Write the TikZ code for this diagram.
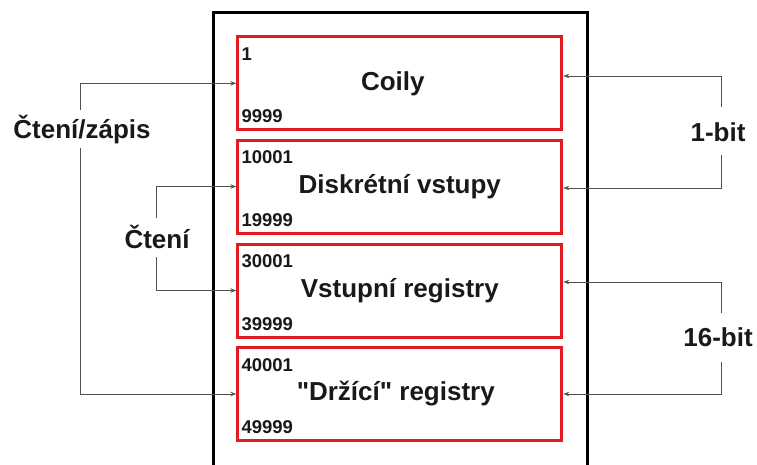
\documentclass[tikz,border=0pt]{standalone}
\usepackage{fontspec}
\setmainfont{Liberation Sans}[Ligatures=TeXOff]
\usetikzlibrary{arrows.meta}
\definecolor{regred}{RGB}{225,28,32}
\definecolor{conngray}{RGB}{80,80,80}
\tikzset{
  regbox/.style={draw=regred, line width=3pt, minimum width=324pt, minimum height=93pt, inner sep=0pt},
  title/.style={font=\bfseries\fontsize{26}{29}\selectfont, text=black!90, inner sep=0pt},
  addr/.style={font=\bfseries\fontsize{18.5}{21}\selectfont, text=black!90, inner sep=0pt},
  side/.style={font=\bfseries\fontsize{26}{29}\selectfont, text=black!90, inner sep=0pt},
  conn/.style={draw=conngray, line width=1pt},
  connarrow/.style={conn, -{Stealth[length=6pt,width=4.5pt]}},
}
\begin{document}
\begin{tikzpicture}[x=1pt,y=-1pt]
\useasboundingbox (0,0) rectangle (757,464);
\clip (0,0) rectangle (757,464);
% outer frame
\draw[line width=3pt, black] (213,480) -- (213,12) -- (587,12) -- (587,480);
% register boxes
\node[regbox] (b1) at (399.8,83.3) {};
\node[regbox] (b2) at (399.8,186.5) {};
\node[regbox] (b3) at (399.8,290.5) {};
\node[regbox] (b4) at (399.8,394) {};
% titles
\node[title] (t1) at ([xshift=-7pt]b1.center) {Coily};
\node[title] (t2) at (b2.center) {Diskrétní vstupy};
\node[title] (t3) at (b3.center) {Vstupní registry};
\node[title] (t4) at ([xshift=-4pt]b4.center) {"Držící" registry};
% addresses
\node[addr, anchor=north west] (a1s) at ([xshift=5pt,yshift=-12pt]b1.north west) {1};
\node[addr, anchor=south west] (a1e) at ([xshift=5pt,yshift=8pt]b1.south west) {9999};
\node[addr, anchor=north west] (a2s) at ([xshift=5pt,yshift=-12pt]b2.north west) {10001};
\node[addr, anchor=south west] (a2e) at ([xshift=5pt,yshift=8pt]b2.south west) {19999};
\node[addr, anchor=north west] (a3s) at ([xshift=5pt,yshift=-12pt]b3.north west) {30001};
\node[addr, anchor=south west] (a3e) at ([xshift=5pt,yshift=8pt]b3.south west) {39999};
\node[addr, anchor=north west] (a4s) at ([xshift=5pt,yshift=-12pt]b4.north west) {40001};
\node[addr, anchor=south west] (a4e) at ([xshift=5pt,yshift=8pt]b4.south west) {49999};
% side labels
\node[side] (cz) at (82,130) {Čtení/zápis};
\node[side] (ct) at (157,237) {Čtení};
\node[side] (bit1) at (718,132) {1-bit};
\node[side] (bit16) at (718,337) {16-bit};
% connector points
\coordinate (czT) at (80,110);
\coordinate (czB) at (80,148);
\coordinate (ctT) at (156.7,218);
\coordinate (ctB) at (156.7,257);
\coordinate (r1T) at (721,107);
\coordinate (r1B) at (721,155);
\coordinate (r1a) at (721,76);
\coordinate (r1b) at (721,188);
\coordinate (r2T) at (721,313);
\coordinate (r2B) at (721,362);
\coordinate (r2a) at (721,282);
\coordinate (r2b) at (721,394);
% left connectors
\draw[connarrow] (czT) |- (b1.west);
\draw[connarrow] (czB) |- (b4.west);
\draw[connarrow] (ctT) |- (b2.west);
\draw[connarrow] (ctB) |- (b3.west);
% right connectors
\draw[connarrow] (r1T) -- (r1a) -- (r1a -| b1.east);
\draw[connarrow] (r1B) -- (r1b) -- (r1b -| b2.east);
\draw[connarrow] (r2T) -- (r2a) -- (r2a -| b3.east);
\draw[connarrow] (r2B) -- (r2b) -- (r2b -| b4.east);
\end{tikzpicture}
\end{document}
